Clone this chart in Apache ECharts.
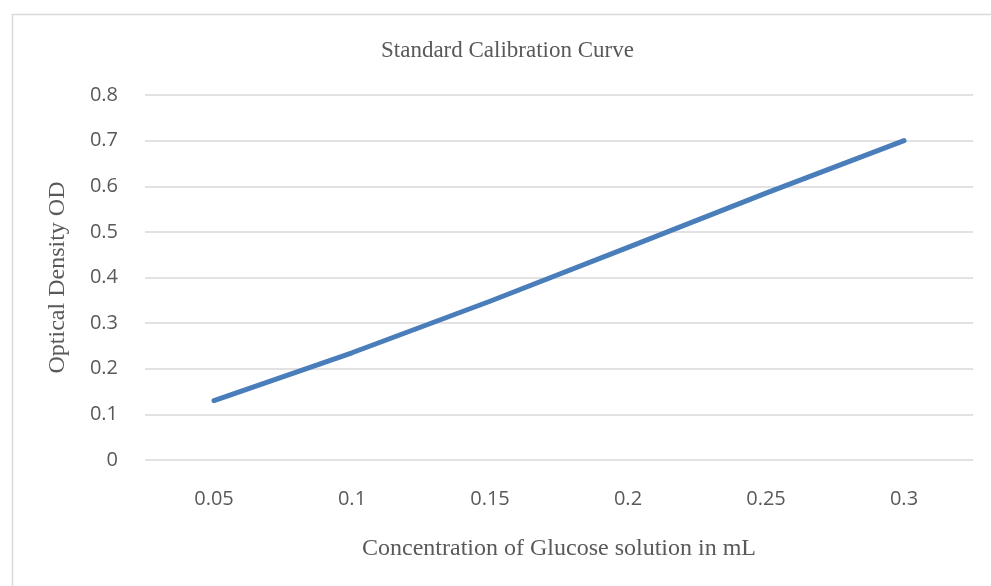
<!DOCTYPE html>
<html>
<head>
<meta charset="utf-8">
<script src="https://cdn.jsdelivr.net/npm/echarts@6/dist/echarts.min.js"></script>
<style>
html,body{margin:0;padding:0;background:#fff;}
#chart{width:991px;height:586px;}
</style>
</head>
<body>
<div id="chart"></div>
<script>
const categories = ['0.05', '0.1', '0.15', '0.2', '0.25', '0.3'];
const odValues = [0.13, 0.235, 0.348, 0.466, 0.585, 0.70];
const yTicks = { min: 0, max: 0.8, interval: 0.1 };
const titleText = 'Standard Calibration Curve';
const xTitle = 'Concentration of Glucose solution in mL';
const yTitle = 'Optical Density OD';

const chart = echarts.init(document.getElementById('chart'), null, { renderer: 'canvas' });
const serif = '"Liberation Serif", "DejaVu Serif", serif';
const sans = '"Open Sans", "Liberation Sans", sans-serif';
chart.setOption({
  animation: false,
  backgroundColor: '#fff',
  graphic: [{
    type: 'rect', left: 10, top: 12, silent: true,
    shape: { x: 0, y: 0, width: 1000, height: 600 },
    style: { fill: 'none', stroke: '#d9d9d9', lineWidth: 1.5 }
  }],
  title: {
    text: titleText, left: 376, top: 34,
    textStyle: { fontFamily: serif, fontSize: 23, fontWeight: 'normal', color: '#595959' }
  },
  grid: { left: 145, right: 18, top: 95, bottom: 126 },
  xAxis: {
    type: 'category', data: categories, boundaryGap: true,
    axisLine: { show: false }, axisTick: { show: false },
    axisLabel: { margin: 29, fontFamily: sans, fontSize: 20, color: '#595959' },
    name: xTitle, nameLocation: 'middle', nameGap: 77,
    nameTextStyle: { fontFamily: serif, fontSize: 24, color: '#595959' }
  },
  yAxis: {
    type: 'value', min: yTicks.min, max: yTicks.max, interval: yTicks.interval,
    axisLine: { show: false }, axisTick: { show: false },
    axisLabel: { margin: 27, fontFamily: sans, fontSize: 20, color: '#595959',
      formatter: v => (Math.round(v * 10) / 10).toString() },
    splitLine: { lineStyle: { color: '#d9d9d9', width: 1.5 } },
    name: yTitle, nameLocation: 'middle', nameGap: 75, nameRotate: 90,
    nameTextStyle: { fontFamily: serif, fontSize: 24, color: '#595959' }
  },
  series: [{
    type: 'line', data: odValues, showSymbol: false, symbol: 'none',
    lineStyle: { color: '#4a7ebb', width: 5, cap: 'round', join: 'round' }
  }]
});
</script>
</body>
</html>
